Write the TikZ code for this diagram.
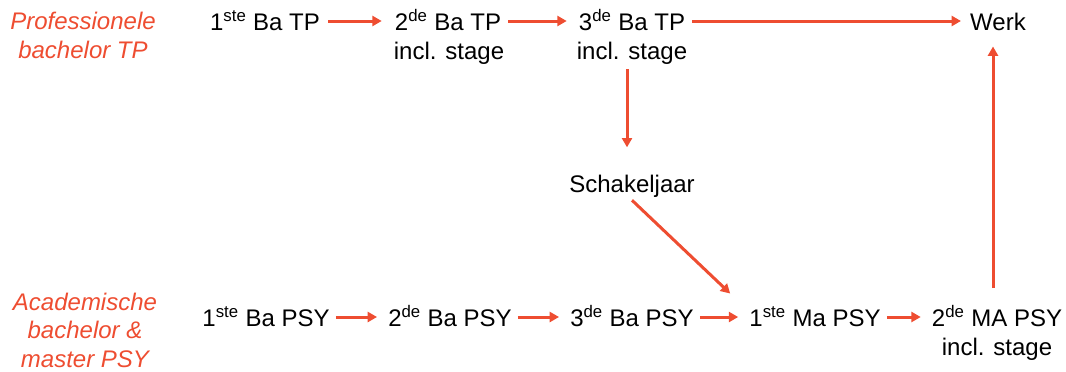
\documentclass[tikz,border=0pt]{standalone}
\usepackage{fontspec}
\setmainfont{Liberation Sans}
\usetikzlibrary{arrows.meta}
\definecolor{accent}{RGB}{238,77,49}
\tikzset{
  lbl/.style={inner sep=0pt, anchor=base, font=\fontsize{18pt}{21.6pt}\selectfont, text=black},
  side/.style={inner sep=0pt, anchor=base, align=center, font=\fontsize{18pt}{21.2pt}\selectfont\itshape, text=accent},
  arr/.style={draw=accent, line width=2.25pt, -{Triangle[width=7.5pt,length=7pt]}},
}
\begin{document}
\begin{tikzpicture}[x=0.75pt,y=-0.75pt]
\path[use as bounding box] (0,0) rectangle (1066,371);
% side labels (anchor base = last line's baseline)
\node[side] (pb) at (83,58) {Professionele\\bachelor TP};
\node[side] (ab) at (85,367) {Academische\\bachelor \&\\master PSY};
% row 1
\node[lbl] (t1) at (265,30) {1\textsuperscript{ste} Ba TP};
\node[lbl] (t2) at (448,30) {2\textsuperscript{de} Ba TP};
\node[lbl] (s2) at (449,59) {incl. stage};
\node[lbl] (t3) at (632,30) {3\textsuperscript{de} Ba TP};
\node[lbl] (s3) at (632,59) {incl. stage};
\node[lbl] (werk) at (998,30) {Werk};
% middle
\node[lbl] (sch) at (632,192) {Schakeljaar};
% row 2
\node[lbl] (p1) at (266,326) {1\textsuperscript{ste} Ba PSY};
\node[lbl] (p2) at (450,326) {2\textsuperscript{de} Ba PSY};
\node[lbl] (p3) at (632,326) {3\textsuperscript{de} Ba PSY};
\node[lbl] (m1) at (815,326) {1\textsuperscript{ste} Ma PSY};
\node[lbl] (m2) at (997,326) {2\textsuperscript{de} MA PSY};
\node[lbl] (sm2) at (997,355) {incl. stage};
% connectors row 1
\draw[arr] ([shift={(8,-9)}]t1.base east) -- ([shift={(-13,-9)}]t2.base west);
\draw[arr] ([shift={(7,-9)}]t2.base east) -- ([shift={(-12,-9)}]t3.base west);
\draw[arr] ([shift={(7,-9)}]t3.base east) -- ([shift={(-9,-9)}]werk.base west);
% vertical and diagonal
\draw[arr] ([shift={(-5,5)}]s3.south) -- ([shift={(-5,-27)}]sch.north);
\draw[arr] ([shift={(0,3)}]sch.south) -- ([shift={(-19,-13)}]m1.north west);
% connectors row 2
\draw[arr] ([shift={(6,-9)}]p1.base east) -- ([shift={(-11,-9)}]p2.base west);
\draw[arr] ([shift={(6,-9)}]p2.base east) -- ([shift={(-11,-9)}]p3.base west);
\draw[arr] ([shift={(6,-9)}]p3.base east) -- ([shift={(-11,-9)}]m1.base west);
\draw[arr] ([shift={(6,-9)}]m1.base east) -- ([shift={(-11,-9)}]m2.base west);
% up to Werk
\draw[arr] ([shift={(-4,-17)}]m2.north) -- ([shift={(-5,16)}]werk.south);
\end{tikzpicture}
\end{document}
